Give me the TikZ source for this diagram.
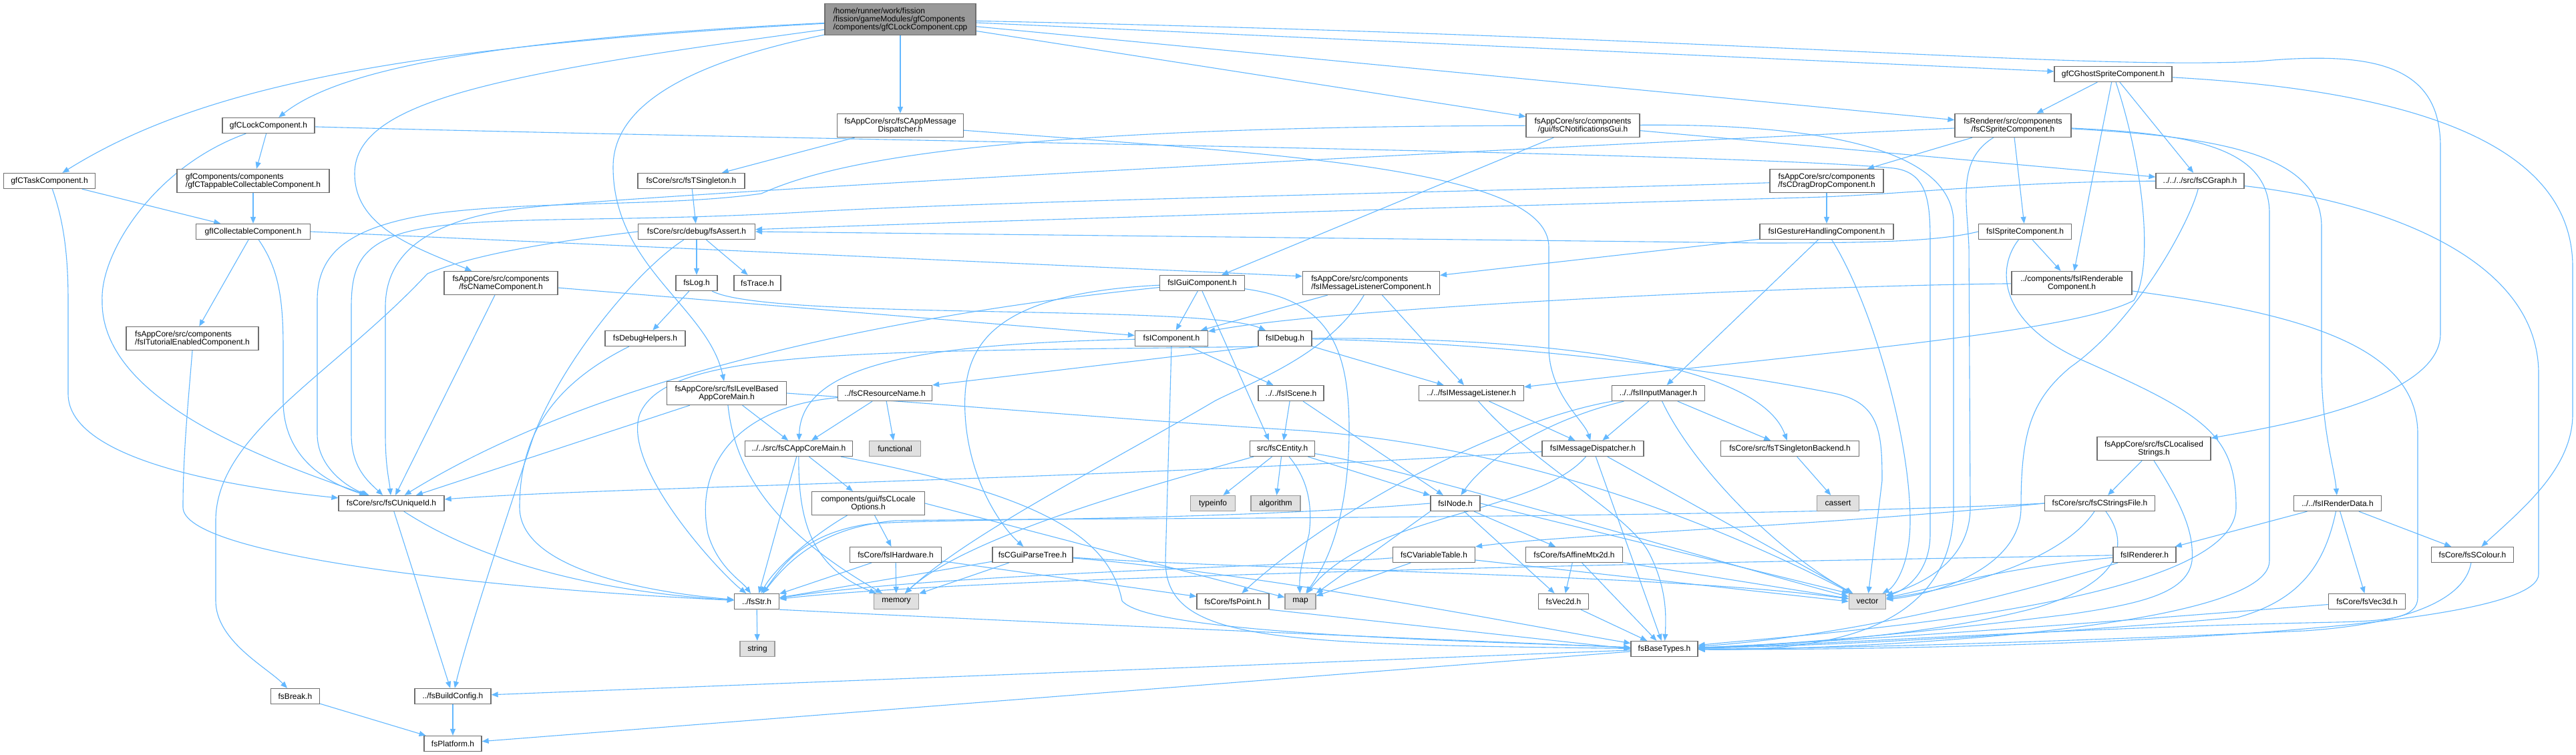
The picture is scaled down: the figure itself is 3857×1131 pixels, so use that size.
\documentclass[tikz,border=0pt]{standalone}
\usepackage{fontspec}
\setmainfont{Liberation Sans}
\usetikzlibrary{arrows.meta,backgrounds,calc}
\definecolor{edgeblue}{HTML}{63B8FF}
\definecolor{ndborder}{HTML}{6E6E6E}
\definecolor{sysfill}{HTML}{E0E0E0}
\definecolor{sysborder}{HTML}{9A9A9A}
\definecolor{mainfill}{HTML}{999999}
\begin{document}
\begin{tikzpicture}[x=1pt,y=-1pt,
  nd/.style={draw=ndborder, fill=white, line width=1.3pt, minimum height=23pt, inner sep=2pt, align=center, font=\fontsize{12pt}{12pt}\selectfont},
  nd2/.style={nd, minimum height=35pt},
  sysnd/.style={nd, fill=sysfill, draw=sysborder},
  mainnd/.style={nd, fill=mainfill, draw=ndborder},
  ed/.style={draw=edgeblue, line width=1.1pt, -{Triangle[length=10pt,width=8pt]}}]
\useasboundingbox (0,0) rectangle (3857,1131);
\begin{scope}[on background layer]
\fill[white] (0,0) rectangle (3857,1131);
\end{scope}
% nodes
\node[mainnd, minimum width=226pt, minimum height=47pt, align=left] (main) at (1348,29) {/home/runner/work/fission\\/fission/gameModules/gfComponents\\/components/gfCLockComponent.cpp};
\node[nd, minimum width=138pt] (lock) at (402,188) {gfCLockComponent.h};
\node[nd, minimum width=137pt] (task) at (74,271) {gfCTaskComponent.h};
\node[nd2, minimum width=228pt, align=left] (tapp) at (379,271) {gfComponents/components\\/gfCTappableCollectableComponent.h};
\node[nd, minimum width=171pt] (icoll) at (379,347) {gfICollectableComponent.h};
\node[nd2, minimum width=189pt] (amd) at (1348,188) {fsAppCore/src/fsCAppMessage\\Dispatcher.h};
\node[nd, minimum width=160pt] (tsing) at (1035,271) {fsCore/src/fsTSingleton.h};
\node[nd, minimum width=175pt] (assert) at (1043,347) {fsCore/src/debug/fsAssert.h};
\node[nd2, minimum width=170pt] (notif) at (2370,188) {fsAppCore/src/components\\/gui/fsCNotificationsGui.h};
\node[nd2, minimum width=170pt] (dd) at (2735,271) {fsAppCore/src/components\\/fsCDragDropComponent.h};
\node[nd, minimum width=200pt] (gest) at (2735,347) {fsIGestureHandlingComponent.h};
\node[nd, minimum width=176pt] (ghost) at (3164,111) {gfCGhostSpriteComponent.h};
\node[nd2, minimum width=174pt] (csprite) at (3014,188) {fsRenderer/src/components\\/fsCSpriteComponent.h};
\node[nd, minimum width=132pt] (graph) at (3294,271) {../../../src/fsCGraph.h};
\node[nd, minimum width=139pt] (isprite) at (3032,347) {fsISpriteComponent.h};
\node[nd2, minimum width=170pt] (cname) at (750,424) {fsAppCore/src/components\\/fsCNameComponent.h};
\node[nd2, minimum width=198pt, align=left] (tut) at (288,507) {fsAppCore/src/components\\/fsITutorialEnabledComponent.h};
\node[nd, minimum width=158pt] (uid) at (586,754) {fsCore/src/fsCUniqueId.h};
\node[nd, minimum width=120pt] (dbgh) at (966,507) {fsDebugHelpers.h};
\node[nd, minimum width=62pt] (log) at (1043,424) {fsLog.h};
\node[nd, minimum width=70pt] (trace) at (1134,424) {fsTrace.h};
\node[nd, minimum width=127pt] (igui) at (1800,424) {fsIGuiComponent.h};
\node[nd, minimum width=109pt] (icomp) at (1754,507) {fsIComponent.h};
\node[nd, minimum width=80pt] (idebug) at (1924,507) {fsIDebug.h};
\node[nd2, minimum width=179pt] (lvl) at (1088,589) {fsAppCore/src/fsILevelBased\\AppCoreMain.h};
\node[nd, minimum width=141pt] (resn) at (1325,589) {../fsCResourceName.h};
\node[nd, minimum width=161pt] (acm) at (1196,672) {../../src/fsCAppCoreMain.h};
\node[sysnd, minimum width=77pt] (functional) at (1340,672) {functional};
\node[nd, minimum width=98pt] (iscene) at (1933,589) {../../fsIScene.h};
\node[nd, minimum width=97pt] (entity) at (1920,672) {src/fsCEntity.h};
\node[nd2, minimum width=169pt] (locale) at (1300,754) {components/gui/fsCLocale\\Options.h};
\node[sysnd, minimum width=67pt] (typeinfo) at (1816,754) {typeinfo};
\node[sysnd, minimum width=74pt] (algorithm) at (1910,754) {algorithm};
\node[nd2, minimum width=205pt, align=left] (imlc) at (2053,424) {fsAppCore/src/components\\/fsIMessageListenerComponent.h};
\node[nd, minimum width=157pt] (iml) at (2203,589) {../../fsIMessageListener.h};
\node[nd, minimum width=139pt] (iim) at (2483,589) {../../fsIInputManager.h};
\node[nd, minimum width=152pt] (imd) at (2385,672) {fsIMessageDispatcher.h};
\node[nd, minimum width=207pt] (tsb) at (2680,672) {fsCore/src/fsTSingletonBackend.h};
\node[nd, minimum width=74pt] (inode) at (2179,754) {fsINode.h};
\node[sysnd, minimum width=63pt] (cassert) at (2752,754) {cassert};
\node[nd2, minimum width=180pt] (rend) at (3102,424) {../components/fsIRenderable\\Component.h};
\node[nd2, minimum width=170pt] (locstr) at (3225,672) {fsAppCore/src/fsCLocalised\\Strings.h};
\node[nd, minimum width=165pt] (strf) at (3144,754) {fsCore/src/fsCStringsFile.h};
\node[nd, minimum width=131pt] (rdata) at (3500,754) {../../fsIRenderData.h};
\node[nd, minimum width=73pt] (brk) at (442,1043) {fsBreak.h};
\node[nd, minimum width=114pt] (bcfg) at (678,1043) {../fsBuildConfig.h};
\node[nd, minimum width=86pt] (plat) at (678,1114) {fsPlatform.h};
\node[nd, minimum width=137pt] (hw) at (1341,831) {fsCore/fsIHardware.h};
\node[nd, minimum width=120pt] (gpt) at (1546,831) {fsCGuiParseTree.h};
\node[nd, minimum width=67pt] (str) at (1133,901) {../fsStr.h};
\node[sysnd, minimum width=67pt] (memory) at (1342,901) {memory};
\node[nd, minimum width=108pt] (point) at (1846,901) {fsCore/fsPoint.h};
\node[sysnd, minimum width=46pt] (map) at (1947,901) {map};
\node[sysnd, minimum width=52pt] (string) at (1134,972) {string};
\node[nd, minimum width=123pt] (vtab) at (2147,831) {fsCVariableTable.h};
\node[nd, minimum width=145pt] (aff) at (2357,831) {fsCore/fsAffineMtx2d.h};
\node[nd, minimum width=75pt] (v2) at (2341,901) {fsVec2d.h};
\node[sysnd, minimum width=55pt] (vector) at (2796,901) {vector};
\node[nd, minimum width=100pt] (bt) at (2492,972) {fsBaseTypes.h};
\node[nd, minimum width=94pt] (renderer) at (3211,831) {fsIRenderer.h};
\node[nd, minimum width=123pt] (colour) at (3702,831) {fsCore/fsSColour.h};
\node[nd, minimum width=115pt] (v3) at (3544,901) {fsCore/fsVec3d.h};
% edges
\begin{scope}[on background layer]
% main
\draw[ed] (main) .. controls (700,60) and (500,110) .. (lock);
\draw[ed] (main) .. controls (600,70) and (300,130) .. (task);
\draw[ed] (main) .. controls (750,110) and (531,150) .. (531,260) .. controls (531,340) and (620,370) .. (cname);
\draw[ed] (main) .. controls (1050,90) and (918,150) .. (918,250) .. controls (918,400) and (1060,460) .. (lvl);
\draw[ed] (main) -- (amd);
\draw[ed] (main) -- (notif);
\draw[ed] (main) -- (ghost);
\draw[ed] (main) -- (csprite);
\draw[ed] (main) .. controls (2600,55) and (3100,105) .. (3380,92) .. controls (3560,75) and (3654,100) .. (3654,220) -- (3654,500) .. controls (3654,600) and (3400,640) .. (locstr);
% lock
\draw[ed] (lock) -- (tapp);
\draw[ed] (lock) .. controls (230,250) and (150,380) .. (153,450) .. controls (150,600) and (400,690) .. (uid);
\draw[ed] (lock) .. controls (1200,210) and (2600,228) .. (2835,252) .. controls (2885,258) and (2890,300) .. (2890,360) -- (2890,800) .. controls (2890,860) and (2850,885) .. (vector);
% task, tapp, icoll, tut
\draw[ed] (task) -- (icoll);
\draw[ed] (task) .. controls (95,330) and (102,380) .. (102,450) -- (102,590) .. controls (102,690) and (350,730) .. (uid);
\draw[ed] (tapp) -- (icoll);
\draw[ed] (icoll) -- (tut);
\draw[ed] (icoll) .. controls (415,400) and (424,440) .. (424,520) -- (424,600) .. controls (424,680) and (480,720) .. (uid);
\draw[ed] (icoll.east) -- ($(imlc.north west)+(0,8)$);
\draw[ed] (tut.south) .. controls (282,600) and (274,680) .. (274,760) .. controls (274,830) and (700,880) .. (str);
% cname
\draw[ed] (cname) -- (uid);
\draw[ed] (cname) -- (icomp);
% amd, tsing, assert
\draw[ed] (amd) -- (tsing);
\draw[ed] (amd) .. controls (1900,230) and (2319,250) .. (2319,370) -- (2319,520) .. controls (2319,590) and (2372,630) .. (imd);
\draw[ed] (tsing) -- (assert);
\draw[ed] (assert) -- (log);
\draw[ed] (assert) -- (trace);
\draw[ed] (assert.west) .. controls (800,365) and (700,385) .. (640,410) .. controls (500,560) and (323,650) .. (323,780) -- (323,900) .. controls (323,960) and (400,1000) .. (brk);
\draw[ed] (assert) .. controls (960,400) and (848,530) .. (800,650) .. controls (770,740) and (700,950) .. (bcfg);
% log, dbgh
\draw[ed] (log) -- (dbgh);
\draw[ed] (log) .. controls (1150,480) and (1800,455) .. (idebug);
\draw[ed] (dbgh) .. controls (820,580) and (778,660) .. (778,760) .. controls (778,860) and (1000,890) .. (str);
% lvl
\draw[ed] (lvl) -- (acm);
\draw[ed] (lvl) -- (uid);
\draw[ed] (lvl) .. controls (1100,700) and (1150,790) .. (memory);
\draw[ed] (lvl.east) .. controls (1500,612) and (1700,630) .. (1950,645) .. controls (2300,670) and (2600,800) .. (vector);
% resn
\draw[ed] (resn) -- (acm);
\draw[ed] (resn) -- (functional);
\draw[ed] (resn) .. controls (1100,610) and (1040,700) .. (1060,800) .. controls (1075,850) and (1110,870) .. (str);
% acm
\draw[ed] (acm) -- (locale);
\draw[ed] (acm) -- (str);
\draw[ed] (acm) .. controls (1195,780) and (1215,850) .. (memory);
\draw[ed] (acm) .. controls (1550,740) and (1660,800) .. (1680,900) .. controls (1720,950) and (2200,960) .. (bt);
% locale, hw, gpt
\draw[ed] (locale) -- (hw);
\draw[ed] (locale) .. controls (1220,800) and (1160,850) .. (str);
\draw[ed] (locale.east) -- (map);
\draw[ed] (hw) -- (memory);
\draw[ed] (hw) -- (str);
\draw[ed] (hw) -- (point);
\draw[ed] (gpt) -- (str);
\draw[ed] (gpt) -- (memory);
\draw[ed] (gpt) .. controls (1900,855) and (2500,860) .. (vector);
\draw[ed] (gpt) .. controls (1900,860) and (2300,940) .. (bt);
% igui
\draw[ed] (igui) -- (icomp);
\draw[ed] (igui.south) -- ($(entity.north)+(-20,0)$);
\draw[ed] (igui) .. controls (1480,440) and (1440,520) .. (1445,620) .. controls (1450,720) and (1500,790) .. (gpt);
\draw[ed] (igui) .. controls (1350,470) and (900,560) .. (uid);
\draw[ed] (igui) .. controls (1990,450) and (2021,520) .. (2020,650) .. controls (2018,800) and (1975,860) .. (map);
% icomp
\draw[ed] (icomp) .. controls (1400,515) and (1200,540) .. (acm);
\draw[ed] (icomp) -- (iscene);
\draw[ed] (icomp.south) -- (1745,840) .. controls (1745,960) and (1900,965) .. (bt);
% idebug
\draw[ed] (idebug) -- (iml);
\draw[ed] (idebug.south west) -- (resn.north east);
\draw[ed] (idebug) .. controls (2400,505) and (2640,560) .. (tsb);
\draw[ed] (idebug) .. controls (2300,515) and (2600,560) .. (2750,590) .. controls (2815,605) and (2818,650) .. (2818,720) -- (vector);
\draw[ed] (idebug.south west) .. controls (1300,528) and (1000,520) .. (958,620) .. controls (930,700) and (1080,860) .. (str);
% iscene, entity
\draw[ed] (iscene) -- (entity);
\draw[ed] (iscene) -- (inode);
\draw[ed] (entity) -- (typeinfo);
\draw[ed] (entity) -- (algorithm);
\draw[ed] (entity) -- (inode);
\draw[ed] (entity) .. controls (1960,720) and (1965,760) .. (1960,800) .. controls (1950,840) and (1945,860) .. (map);
\draw[ed] (entity) .. controls (1750,720) and (1450,800) .. (memory);
\draw[ed] (entity) .. controls (2100,700) and (2600,850) .. (vector);
% imlc
\draw[ed] (imlc) -- (icomp);
\draw[ed] (imlc) -- (iml);
\draw[ed] (imlc) .. controls (1990,530) and (1880,570) .. (1820,600) .. controls (1650,700) and (1450,800) .. (memory);
% iml, iim, imd
\draw[ed] (iml) -- (imd);
\draw[ed] (iml) .. controls (2300,700) and (2440,770) .. (2470,830) .. controls (2495,880) and (2495,920) .. (bt);
\draw[ed] (iim) -- (imd);
\draw[ed] (iim) -- (tsb);
\draw[ed] (iim) .. controls (2330,625) and (2230,680) .. (inode);
\draw[ed] (iim) .. controls (2250,630) and (2000,760) .. (point);
\draw[ed] (iim) .. controls (2530,690) and (2650,820) .. (vector);
\draw[ed] (imd) .. controls (1600,720) and (900,730) .. (uid);
\draw[ed] (imd) -- (bt);
\draw[ed] (imd) -- (vector);
\draw[ed] (imd) .. controls (2300,770) and (2050,770) .. (map);
\draw[ed] (tsb) -- (cassert);
% inode
\draw[ed] (inode) -- (aff);
\draw[ed] (inode) -- (v2);
\draw[ed] (inode.south west) -- (map.north east);
\draw[ed] (inode.east) -- (vector.north west);
\draw[ed] (inode.west) .. controls (1800,782) and (1400,776) .. (1300,785) .. controls (1200,800) and (1170,850) .. (str);
% vtab, aff, v2, point, str
\draw[ed] (vtab) -- (map);
\draw[ed] ($(vtab.east)+(0,8)$) -- (vector.west);
\draw[ed] (vtab) .. controls (1900,850) and (1400,860) .. (str);
\draw[ed] (aff) -- (v2);
\draw[ed] (aff) -- (bt);
\draw[ed] (aff) -- (vector);
\draw[ed] (v2) -- (bt);
\draw[ed] (point.south east) -- (bt.west);
\draw[ed] (str) -- (string);
\draw[ed] (str.south east) .. controls (1600,935) and (2200,960) .. (bt);
% bt, base
\draw[ed] (bt) -- (bcfg);
\draw[ed] (bt) -- (plat);
\draw[ed] (bcfg) -- (plat);
\draw[ed] (brk) -- (plat);
\draw[ed] (uid) -- (bcfg);
\draw[ed] (uid) .. controls (750,860) and (950,890) .. (str);
% notif, dd, gest
\draw[ed] (notif) -- (igui);
\draw[ed] (notif) .. controls (1500,190) and (1250,240) .. (1140,290) .. controls (1000,310) and (800,300) .. (650,320) .. controls (520,340) and (475,380) .. (475,450) -- (475,650) .. controls (475,700) and (520,730) .. (uid);
\draw[ed] (notif) -- (graph);
\draw[ed] (notif) .. controls (2750,185) and (2920,230) .. (2925,330) -- (2925,760) .. controls (2925,960) and (2700,975) .. (bt);
\draw[ed] (dd) -- (gest);
\draw[ed] (dd) .. controls (2300,285) and (1500,300) .. (1200,318) .. controls (900,335) and (700,320) .. (600,350) .. controls (540,370) and (526,400) .. (526,460) -- (526,650) .. controls (526,700) and (550,720) .. (uid);
\draw[ed] (gest) -- (imlc);
\draw[ed] (gest) -- (iim);
\draw[ed] (gest) .. controls (2800,450) and (2860,650) .. (2860,780) .. controls (2860,850) and (2835,880) .. (vector);
% ghost
\draw[ed] (ghost) -- (csprite);
\draw[ed] (ghost) -- (rend);
\draw[ed] (ghost) .. controls (3210,250) and (3225,400) .. (3195,450) .. controls (3100,500) and (2700,530) .. (iml);
\draw[ed] (ghost) -- (graph);
\draw[ed] (ghost) .. controls (3600,135) and (3852,210) .. (3852,400) -- (3852,620) .. controls (3852,700) and (3780,760) .. (colour);
% csprite
\draw[ed] (csprite) -- (isprite);
\draw[ed] (csprite) -- (dd);
\draw[ed] (csprite) .. controls (2000,235) and (1000,290) .. (800,310) .. controls (640,325) and (577,380) .. (577,460) -- (577,650) .. controls (577,700) and (583,720) .. (uid);
\draw[ed] (csprite) .. controls (3280,200) and (3398,220) .. (3398,320) -- (3398,840) .. controls (3398,950) and (2700,975) .. (bt);
\draw[ed] (csprite) .. controls (3320,205) and (3476,230) .. (3476,340) -- (3476,560) .. controls (3478,650) and (3495,700) .. (rdata);
\draw[ed] (csprite) .. controls (2930,240) and (2945,300) .. (2948,370) -- (2950,760) .. controls (2950,850) and (2860,880) .. (vector);
% graph
\draw[ed] (graph) .. controls (3000,272) and (2850,292) .. (2700,296) .. controls (2200,310) and (1500,330) .. (assert);
\draw[ed] (graph) .. controls (3280,330) and (3200,480) .. (3100,550) .. controls (3040,600) and (3026,650) .. (3026,760) .. controls (3026,850) and (2900,890) .. (vector);
\draw[ed] (graph) .. controls (3550,300) and (3801,380) .. (3801,560) -- (3801,860) .. controls (3801,960) and (2800,975) .. (bt);
% isprite
\draw[ed] (isprite) -- (rend);
\draw[ed] (isprite) .. controls (2990,400) and (2990,480) .. (3112,537) .. controls (3300,620) and (3348,650) .. (3348,760) .. controls (3348,910) and (2700,950) .. (bt);
\draw[ed] (isprite.west) .. controls (2900,362) and (2800,364) .. (2635,364) -- (assert.east);
% rend
\draw[ed] (rend) .. controls (2700,428) and (2000,460) .. (icomp);
\draw[ed] (rend) .. controls (3450,470) and (3620,520) .. (3620,650) -- (3620,895) .. controls (3620,925) and (3580,930) .. (3500,932) .. controls (3100,940) and (2750,965) .. (bt);
% locstr, strf
\draw[ed] (locstr) -- (strf);
\draw[ed] (locstr.south) .. controls (3270,760) and (3285,800) .. (3282,840) .. controls (3275,890) and (3200,905) .. (3100,920) .. controls (2900,945) and (2700,965) .. (bt);
\draw[ed] (strf.west) .. controls (2700,790) and (2350,800) .. (vtab.north east);
\draw[ed] (strf.west) .. controls (2600,778) and (1500,776) .. (1340,780) .. controls (1230,790) and (1180,840) .. (str);
\draw[ed] (strf) .. controls (3100,820) and (3000,870) .. (vector);
\draw[ed] (strf) .. controls (3200,830) and (3150,880) .. (3050,910) .. controls (2900,950) and (2700,965) .. (bt);
% rdata, renderer, colour, v3
\draw[ed] (rdata) -- (renderer);
\draw[ed] (rdata) -- (colour);
\draw[ed] (rdata) -- (v3);
\draw[ed] (rdata) .. controls (3480,850) and (3440,900) .. (3350,925) .. controls (3000,955) and (2700,968) .. (bt);
\draw[ed] (renderer) .. controls (2700,840) and (1500,860) .. (str);
\draw[ed] (renderer) .. controls (3000,850) and (2900,880) .. (vector);
\draw[ed] (renderer) .. controls (3050,880) and (2800,950) .. (bt);
\draw[ed] (colour) .. controls (3690,900) and (3600,935) .. (3450,945) .. controls (3000,965) and (2700,972) .. (bt);
\draw[ed] (v3) .. controls (3300,920) and (2800,960) .. (bt);
\end{scope}
\end{tikzpicture}
\end{document}
